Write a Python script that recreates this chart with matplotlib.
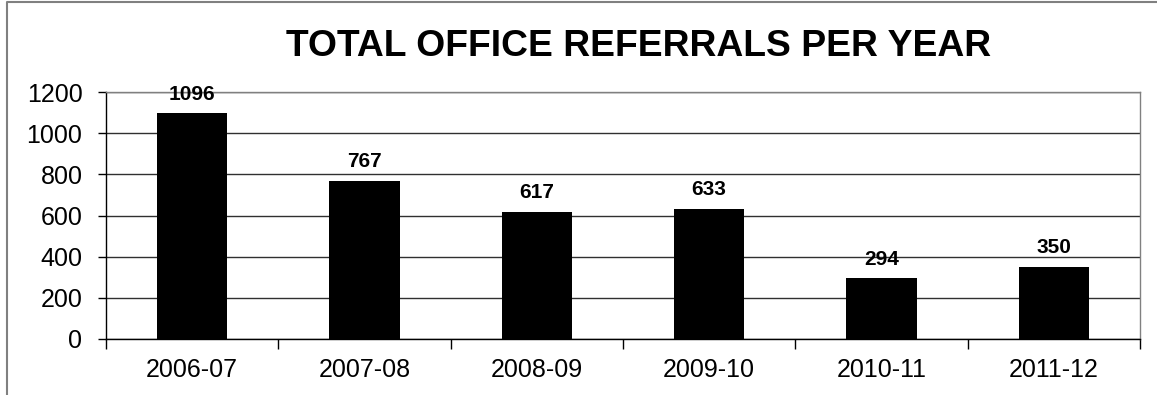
import matplotlib
matplotlib.use("Agg")
import matplotlib.pyplot as plt
from matplotlib.lines import Line2D

plt.rcParams['font.family'] = ['Liberation Sans', 'DejaVu Sans']

# referral counts per school year
years = ['2006-07', '2007-08', '2008-09', '2009-10', '2010-11', '2011-12']
referrals = [1096, 767, 617, 633, 294, 350]
y_ticks = [0, 200, 400, 600, 800, 1000, 1200]

fig = plt.figure(figsize=(11.57, 3.95), dpi=100)
ax = fig.add_axes([106 / 1157, 1 - 339 / 395, 1034 / 1157, 247 / 395])

x = list(range(len(years)))
bars = ax.bar(x, referrals, width=0.41, color='black', zorder=3)

for xi, v in zip(x, referrals):
    ax.annotate(str(v), (xi, v), xytext=(0, 10), textcoords='offset points',
                ha='center', va='baseline', fontsize=15, fontweight='bold', zorder=4)

ax.set_xlim(-0.5, len(years) - 0.5)
ax.set_ylim(0, 1200)
ax.set_yticks(y_ticks)
ax.tick_params(axis='y', labelsize=18, length=6, width=1, direction='out', pad=11)

# category labels centred, tick marks on category boundaries
ax.set_xticks(x)
ax.set_xticklabels(years, fontsize=18)
ax.tick_params(axis='x', which='major', length=0, pad=14)
ax.set_xticks([i - 0.5 for i in range(len(years) + 1)], minor=True)
ax.tick_params(axis='x', which='minor', length=7, width=1, direction='out')

ax.grid(axis='y', color='#303030', linewidth=1, zorder=0)
ax.spines['left'].set_color('black')
ax.spines['bottom'].set_color('black')
ax.spines['top'].set_color('#808080')
ax.spines['right'].set_color('#808080')
for s in ax.spines.values():
    s.set_linewidth(1)

fig.text(639 / 1157, 1 - 46 / 395, 'TOTAL OFFICE REFERRALS PER YEAR',
         ha='center', va='center', fontsize=26.8, fontweight='bold')

# outer chart frame
fig.add_artist(Line2D([7 / 1157, 7 / 1157, 1], [0, 1 - 2 / 395, 1 - 2 / 395],
                      transform=fig.transFigure, color='#808080', linewidth=1.5))

fig.savefig('out.png', dpi=100)
